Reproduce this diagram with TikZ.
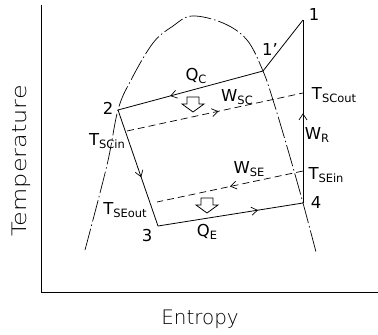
\documentclass[tikz,border=0pt]{standalone}
\usepackage{fontspec}
\setmainfont{DejaVu Sans}
\IfFontExistsTF{DejaVu Sans ExtraLight}{\newfontfamily\axisfont{DejaVu Sans ExtraLight}}{\newfontfamily\axisfont{DejaVu Sans}}
\usetikzlibrary{arrows.meta,decorations.markings}
\newcommand\lbsub[1]{\raisebox{-0.4ex}{\fontsize{11.5}{12}\selectfont #1}}
\begin{document}
\begin{tikzpicture}[x=1bp,y=-1bp,
  every node/.style={font=\fontsize{16.5}{18}\selectfont, inner sep=0pt},
  axisline/.style={line width=0.8bp},
  cycleline/.style={line width=0.8bp},
  domeline/.style={line width=0.7bp, dash pattern=on 22bp off 3bp on 1.5bp off 3bp},
  secline/.style={line width=0.7bp, dash pattern=on 7bp off 4bp},
  midarrow/.style={postaction={decorate}, decoration={markings,
     mark=at position #1 with {\arrow{Straight Barb[length=6bp,width=8bp,line width=0.7bp]}}}},
  hollowarrow/.pic={\draw[line width=0.8bp, line join=miter]
     (-6,-7) -- (6,-7) -- (6,0) -- (11,0) -- (0,8) -- (-11,0) -- (-6,0) -- cycle;},
  axislabel/.style={font=\axisfont\fontsize{20}{24}\selectfont}]
\useasboundingbox (0,0) rectangle (378,335);
% axes
\coordinate (ytop) at (41,5);
\coordinate (orig) at (41,292);
\coordinate (xend) at (378,292);
\draw[axisline] (ytop) -- (orig) -- (xend);
\node[axislabel, rotate=90] (ylab) at (21,161) {\scalebox{1.2}[1]{Temperature}};
\node[axislabel] (xlab) at (200,319) {Entropy};
% saturation dome
\draw[domeline] plot[smooth, tension=0.6] coordinates {(85,250) (107,165) (118,110) (131,80) (153,43) (173,26) (192,16) (223,23) (247,40) (263,71) (273,100) (288,150) (303,203) (316,252)};
% cycle points
\coordinate (p1) at (303,20);
\coordinate (p1p) at (263,71);
\coordinate (p2) at (118,110);
\coordinate (p3) at (158,226);
\coordinate (p4) at (303,203);
\draw[cycleline] (p1) -- (p1p);
\draw[cycleline, midarrow=0.64] (p1p) -- (p2);
\draw[cycleline, midarrow=0.58] (p2) -- (p3);
\draw[cycleline, midarrow=0.69] (p3) -- (p4);
\draw[cycleline, midarrow=0.49] (p4) -- (p1);
% secondary fluid lines
\coordinate (scin) at (127,131);
\coordinate (scout) at (303,93);
\draw[secline, midarrow=0.52] (scin) -- (scout);
\coordinate (sein) at (303,171);
\coordinate (seout) at (157,202);
\draw[secline, midarrow=0.5] (sein) -- (seout);
% heat arrows
\pic (hc) at (193,104) {hollowarrow};
\pic (he) at (207,205) {hollowarrow};
% labels
\node (l1) at (314,15) {1};
\node (l1p) at (270,50) {1\char"27};
\node (l2) at (108,108) {2};
\node (l3) at (147,236) {3};
\node (l4) at (316,203) {4};
\node (qc) at (196,76) {Q\lbsub{C}};
\node (wsc) at (237,97) {W\lbsub{SC}};
\node (tscin) at (107,141) {T\lbsub{SCin}};
\node (tscout) at (334,95) {T\lbsub{SCout}};
\node (wr) at (317,135) {W\lbsub{R}};
\node (wse) at (249,169) {W\lbsub{SE}};
\node (tsein) at (326,175) {T\lbsub{SEin}};
\node (tseout) at (125,210) {T\lbsub{SEout}};
\node (qe) at (207,232) {Q\lbsub{E}};
\end{tikzpicture}
\end{document}
